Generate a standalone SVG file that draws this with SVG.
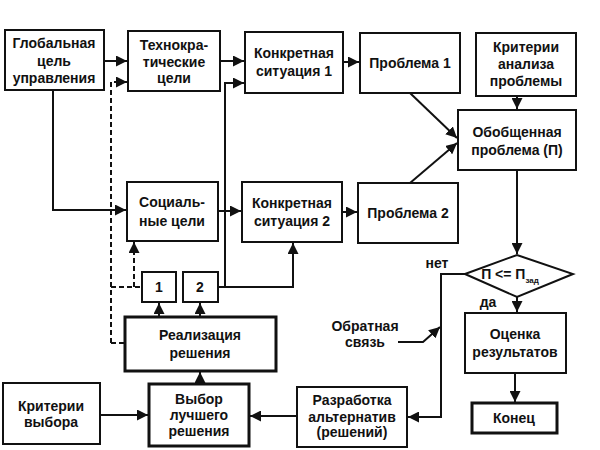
<svg xmlns="http://www.w3.org/2000/svg" width="600" height="450" viewBox="0 0 600 450">
<style>
.b{fill:#fff;stroke:#111;stroke-width:2}
.bt{fill:#fff;stroke:#111;stroke-width:3}
.t{font-family:"Liberation Sans",Arial,sans-serif;font-weight:bold;font-size:14px;fill:#111;text-anchor:middle}
.c{fill:none;stroke:#111;stroke-width:2}
.d{fill:none;stroke:#111;stroke-width:2;stroke-dasharray:5,3}
</style>
<defs>
<marker id="a" viewBox="0 0 10 10" refX="10" refY="5" markerWidth="5.5" markerHeight="5.5" orient="auto" markerUnits="strokeWidth">
<path d="M0,0 L10,5 L0,10 z" fill="#111"/>
</marker>
</defs>
<rect width="600" height="450" fill="#fff"/>
<g id="connectors">
<path class="c" d="M104,61 H127" marker-end="url(#a)"/>
<path class="d" d="M111,343 V82 H127" marker-end="url(#a)"/>
<path class="d" d="M111,343 H125"/>
<path class="d" d="M111,287 H142"/>
<path class="d" d="M134,287 V242" marker-end="url(#a)"/>
<path class="c" d="M53,90 V210 H126" marker-end="url(#a)"/>
<path class="c" d="M220,61 H244" marker-end="url(#a)"/>
<path class="c" d="M218,287 H225 V83 H244" marker-end="url(#a)"/>
<path class="c" d="M225,287 H293 V243" marker-end="url(#a)"/>
<path class="c" d="M218,211 H241" marker-end="url(#a)"/>
<path class="c" d="M343,62 H359" marker-end="url(#a)"/>
<path class="c" d="M342,212 H357" marker-end="url(#a)"/>
<path class="c" d="M410,93 L457,138" marker-end="url(#a)"/>
<path class="c" d="M410,183 L457,143" marker-end="url(#a)"/>
<path class="c" d="M517,96 V109" marker-end="url(#a)"/>
<path class="c" d="M517,170 V254" marker-end="url(#a)"/>
<path class="c" d="M465,274 H441 V417 H408" marker-end="url(#a)"/>
<path class="c" d="M398,342 H423 L440,327" marker-end="url(#a)"/>
<path class="c" d="M517,297 V312" marker-end="url(#a)"/>
<path class="c" d="M515,373 V402" marker-end="url(#a)"/>
<path class="c" d="M297,416 H250" marker-end="url(#a)"/>
<path class="c" d="M100,415 H148" marker-end="url(#a)"/>
<path class="c" d="M200,384 V372" marker-end="url(#a)"/>
<path class="c" d="M159,317 V303" marker-end="url(#a)"/>
<path class="c" d="M200,317 V303" marker-end="url(#a)"/>
</g>
<g id="n-global"><rect class="b" x="5" y="30" width="99" height="60"/><text class="t" x="54" y="48">Глобальная</text><text class="t" x="54" y="66">цель</text><text class="t" x="54" y="83">управления</text></g>
<g id="n-techno"><rect class="b" x="128" y="31" width="92" height="60"/><text class="t" x="174" y="50">Технокра-</text><text class="t" x="174" y="67">тические</text><text class="t" x="174" y="83">цели</text></g>
<g id="n-ks1"><rect class="b" x="245" y="32" width="98" height="61"/><text class="t" x="294" y="58">Конкретная</text><text class="t" x="294" y="76">ситуация 1</text></g>
<g id="n-p1"><rect class="b" x="360" y="33" width="100" height="60"/><text class="t" x="410" y="68">Проблема 1</text></g>
<g id="n-crit-an"><rect class="b" x="476" y="33" width="100" height="63"/><text class="t" x="526" y="52">Критерии</text><text class="t" x="526" y="69">анализа</text><text class="t" x="526" y="86">проблемы</text></g>
<g id="n-gen"><rect class="b" x="458" y="110" width="118" height="60"/><text class="t" x="517" y="137">Обобщенная</text><text class="t" x="517" y="155">проблема (П)</text></g>
<g id="n-social"><rect class="b" x="127" y="182" width="91" height="59"/><text class="t" x="172" y="207">Социаль-</text><text class="t" x="172" y="226">ные цели</text></g>
<g id="n-ks2"><rect class="b" x="242" y="182" width="100" height="60"/><text class="t" x="292" y="208">Конкретная</text><text class="t" x="292" y="226">ситуация 2</text></g>
<g id="n-p2"><rect class="b" x="358" y="183" width="100" height="60"/><text class="t" x="408" y="218">Проблема 2</text></g>
<g id="n-dec"><path class="b" d="M465,274 L517,255 L573,274 L517,297 Z"/><text class="t" x="510" y="279">П &lt;= П<tspan font-size="8" dy="4">зад</tspan></text></g>
<g id="n-1"><rect class="b" x="142" y="272" width="34" height="30"/><text class="t" x="159" y="292">1</text></g>
<g id="n-2"><rect class="b" x="183" y="272" width="35" height="30"/><text class="t" x="200" y="292">2</text></g>
<g id="n-real"><rect class="bt" x="125" y="317" width="151" height="54"/><text class="t" x="200" y="340">Реализация</text><text class="t" x="200" y="358">решения</text></g>
<g id="n-crit-v"><rect class="b" x="3" y="383" width="97" height="61"/><text class="t" x="51" y="411">Критерии</text><text class="t" x="51" y="427">выбора</text></g>
<g id="n-best"><rect class="bt" x="149" y="384" width="100" height="62"/><text class="t" x="199" y="404">Выбор</text><text class="t" x="199" y="420">лучшего</text><text class="t" x="199" y="436">решения</text></g>
<g id="n-alt"><rect class="b" x="297" y="387" width="110" height="60"/><text class="t" x="352" y="405">Разработка</text><text class="t" x="352" y="422">альтернатив</text><text class="t" x="352" y="437">(решений)</text></g>
<g id="n-eval"><rect class="b" x="465" y="313" width="101" height="60"/><text class="t" x="515" y="339">Оценка</text><text class="t" x="515" y="357">результатов</text></g>
<g id="n-end"><rect class="bt" x="472" y="403" width="85" height="30"/><text class="t" x="514" y="423">Конец</text></g>
<g id="labels"><text class="t" x="365" y="331">Обратная</text><text class="t" x="365" y="347">связь</text><text class="t" x="437" y="268">нет</text><text class="t" x="488" y="307">да</text></g>
</svg>
